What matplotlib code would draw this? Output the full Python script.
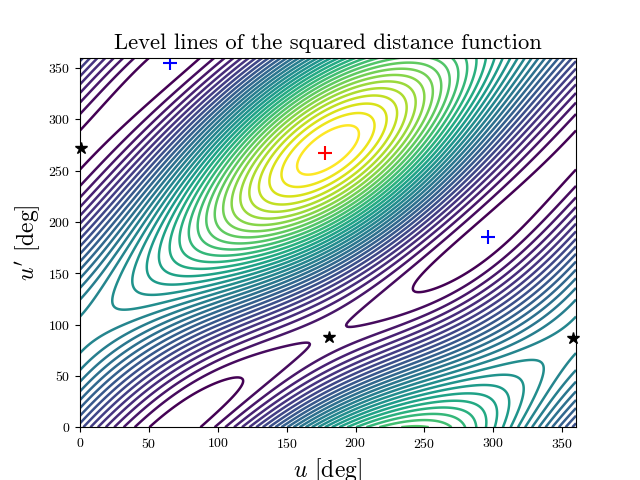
#!/usr/bin/env python3
"""Level lines of the squared distance between two coplanar-ish Keplerian orbits."""

import numpy as np
import matplotlib
matplotlib.use("Agg")
import matplotlib.pyplot as plt

plt.rcParams["font.family"] = ["cmr10", "DejaVu Sans"]
plt.rcParams["mathtext.fontset"] = "cm"
plt.rcParams["axes.formatter.use_mathtext"] = True
plt.rcParams["axes.unicode_minus"] = False

# orbital elements estimated from the critical points in the picture
SEMI_MAJOR = [1.0, 0.85]
ECCENTRICITY = [0.349, 0.0]
PHASE_DEG = 270.0
INCLINATION_DEG = 0.0
LEVEL_FIRST = 0.1
LEVEL_STEP = 0.14

# critical points (deg)
saddle_u = [1, 181, 358]
saddle_up = [272, 88, 87]
minimum_u = [65, 296]
minimum_up = [355, 185]
maximum_u = [178]
maximum_up = [267]


def squared_distance(u, up):
    a1, a2 = SEMI_MAJOR
    e1, e2 = ECCENTRICITY
    b1 = a1 * np.sqrt(1 - e1 ** 2)
    b2 = a2 * np.sqrt(1 - e2 ** 2)
    phase = np.radians(PHASE_DEG)
    inc = np.radians(INCLINATION_DEG)
    x1 = a1 * (np.cos(u) - e1)
    y1 = b1 * np.sin(u)
    xp = a2 * (np.cos(up) - e2)
    yp = b2 * np.sin(up)
    # second orbit turned by the phase, then tilted about the x axis
    x2 = xp * np.cos(phase) + yp * np.sin(phase)
    y2 = (-xp * np.sin(phase) + yp * np.cos(phase))
    z2 = y2 * np.sin(inc)
    y2 = y2 * np.cos(inc)
    return (x1 - x2) ** 2 + (y1 - y2) ** 2 + z2 ** 2


def main():
    deg = np.linspace(0, 360, 361)
    U, Up = np.meshgrid(deg, deg)
    D2 = squared_distance(np.radians(U), np.radians(Up))

    fig, ax = plt.subplots()
    levels = np.arange(LEVEL_FIRST, D2.max(), LEVEL_STEP)
    ax.contour(U, Up, D2, levels, cmap="viridis", linewidths=1.8)
    ax.plot(saddle_u, saddle_up, "k*", markersize=9, clip_on=False)
    ax.plot(minimum_u, minimum_up, "b+", markersize=10, markeredgewidth=1.5)
    ax.plot(maximum_u, maximum_up, "r+", markersize=10, markeredgewidth=1.5)
    ax.set_xlim(0, 360)
    ax.set_ylim(0, 360)
    ax.set_xticks(np.arange(0, 351, 50))
    ax.set_yticks(np.arange(0, 351, 50))
    ax.set_xlabel(r"$u$ [deg]", fontsize=17)
    ax.set_ylabel(r"$u'$ [deg]", fontsize=17)
    ax.set_title("Level lines of the squared distance function", fontsize=16.3)
    fig.savefig("out.png", dpi=100)


if __name__ == "__main__":
    main()
